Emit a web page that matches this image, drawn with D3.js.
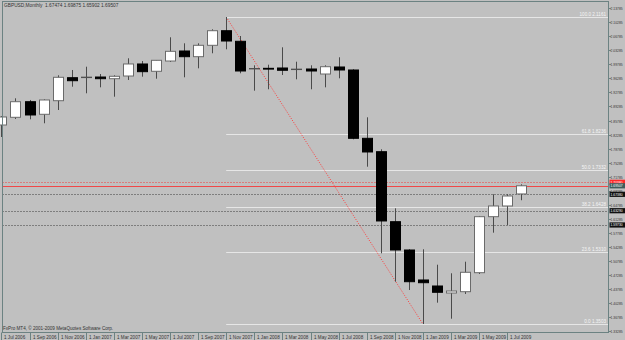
<!DOCTYPE html>
<html><head><meta charset="utf-8">
<script src="https://cdnjs.cloudflare.com/ajax/libs/d3/7.8.5/d3.min.js"></script>
<style>html,body{margin:0;padding:0;background:#c0c0c0;overflow:hidden}</style>
</head><body><svg id="c" width="625" height="340"></svg>
<script>
// ---- data ----
const months = ["Jul 2006","Aug 2006","Sep 2006","Oct 2006","Nov 2006","Dec 2006","Jan 2007","Feb 2007","Mar 2007","Apr 2007","May 2007","Jun 2007","Jul 2007","Aug 2007","Sep 2007","Oct 2007","Nov 2007","Dec 2007","Jan 2008","Feb 2008","Mar 2008","Apr 2008","May 2008","Jun 2008","Jul 2008","Aug 2008","Sep 2008","Oct 2008","Nov 2008","Dec 2008","Jan 2009","Feb 2009","Mar 2009","Apr 2009","May 2009","Jun 2009","Jul 2009","Aug 2009"];
const openP  = [1.8467,1.8659,1.9048,1.8734,1.9073,1.9647,1.9655,1.9664,1.9622,1.9689,1.9989,1.9807,2.0063,2.0313,2.0171,2.0455,2.0819,2.0555,1.9871,1.9881,1.9889,1.9855,1.9864,1.9739,1.9914,1.9839,1.8135,1.7801,1.6055,1.5349,1.4601,1.4451,1.4276,1.4309,1.4783,1.6180,1.6447,1.67474];
const highP  = [1.8690,1.9133,1.9091,1.9108,1.9707,1.9839,1.9921,1.9739,1.9707,2.0131,2.0063,2.0088,2.0655,2.0505,2.0505,2.0854,2.1161,2.0687,1.9956,1.9971,2.0405,2.0046,1.9956,1.9956,2.0156,1.9860,1.8659,1.7861,1.6389,1.5370,1.5367,1.4982,1.4768,1.5057,1.6198,1.6739,1.6739,1.69875];
const lowP   = [1.8168,1.8617,1.8609,1.8510,1.8841,1.9422,1.9258,1.9407,1.9173,1.9590,1.9672,1.9622,2.0039,1.9657,1.9881,2.0256,2.0355,1.9757,1.9323,1.9358,1.9714,1.9607,1.9358,1.9407,1.9632,1.8110,1.7427,1.5267,1.4558,1.4351,1.3503,1.4035,1.3635,1.4252,1.4750,1.5781,1.5973,1.65902];
const closeP = [1.8667,1.9048,1.8717,1.9091,1.9657,1.9572,1.9655,1.9622,1.9682,1.9989,1.9797,2.0081,2.0305,2.0171,2.0455,2.0819,2.0562,1.9814,1.9871,1.9873,1.9832,1.9855,1.9814,1.9921,1.9839,1.8135,1.7794,1.6073,1.5349,1.4558,1.4533,1.4294,1.4326,1.4793,1.6180,1.6447,1.6696,1.69507];
const priceTicks = [2.13785,2.10285,2.06785,2.03285,1.99785,1.96285,1.92785,1.89285,1.85785,1.82285,1.78785,1.75285,1.71785,1.68285,1.64785,1.61285,1.57785,1.54285,1.50785,1.47285,1.43785,1.40285,1.36785,1.33285];
const dateLabels = ["1 Jul 2006","1 Sep 2006","1 Nov 2006","1 Jan 2007","1 Mar 2007","1 May 2007","1 Jul 2007","1 Sep 2007","1 Nov 2007","1 Jan 2008","1 Mar 2008","1 May 2008","1 Jul 2008","1 Sep 2008","1 Nov 2008","1 Jan 2009","1 Mar 2009","1 May 2009","1 Jul 2009"];
const dateLabelMonths = ["Jul 2006","Sep 2006","Nov 2006","Jan 2007","Mar 2007","May 2007","Jul 2007","Sep 2007","Nov 2007","Jan 2008","Mar 2008","May 2008","Jul 2008","Sep 2008","Nov 2008","Jan 2009","Mar 2009","May 2009","Jul 2009"];
const fibLevels = [0, 23.6, 38.2, 50.0, 61.8, 100.0];
const fibLow = 1.3503, fibHigh = 2.1161;
const fibStartMonth = "Nov 2007", fibEndMonth = "Jan 2009";
const bidLevel = 1.69507;
const redDottedLevel = 1.7038;
const grayLevels = [1.6738, 1.6329, 1.5973];
const headerText = "GBPUSD,Monthly  1.67474 1.69875 1.65902 1.69507";
const footerText = "FxPro MT4, \u00a9 2001-2009 MetaQuotes Software Corp.";

// ---- layout ----
const W = 625, H = 340;
const plot = {l: 2.5, r: 608.5, t: 1.5, b: 332.5};
const svg = d3.select("#c");
const FONT = "'Liberation Sans Narrow','Liberation Sans',Arial,sans-serif";

const x = d3.scalePoint().domain(months).range([1.4, 1.4 + 14.05 * (months.length - 1)]);
const y = d3.scaleLinear().domain([fibLow, fibHigh]).range([324, 17]);

svg.append("rect").attr("width", W).attr("height", H).attr("fill", "#c0c0c0");

// Fibonacci levels
const fg = svg.append("g");
fibLevels.forEach(lv => {
  const v = fibLow + lv / 100 * (fibHigh - fibLow);
  const yy = Math.round(y(v)) + 0.5;
  fg.append("line").attr("x1", x(fibStartMonth)).attr("x2", plot.r).attr("y1", yy).attr("y2", yy)
    .attr("stroke", "#e6e6e6").attr("stroke-width", 1.2);
  fg.append("text").attr("x", 606).attr("y", yy - 1.2).attr("text-anchor", "end")
    .attr("font-family", FONT).attr("font-size", 4.6).attr("fill", "#f6f6f6")
    .text(lv.toFixed(1) + "  " + v.toFixed(4));
});

// horizontal dotted gray levels
grayLevels.forEach(v => {
  const yy = Math.round(y(v)) + 0.5;
  svg.append("line").attr("x1", plot.l).attr("x2", plot.r).attr("y1", yy).attr("y2", yy)
    .attr("stroke", "#3c3c3c").attr("stroke-width", 1).attr("stroke-dasharray", "1,2");
});
// red lines
{
  const yd = Math.round(y(redDottedLevel)) + 0.5;
  svg.append("line").attr("x1", plot.l).attr("x2", plot.r).attr("y1", yd).attr("y2", yd)
    .attr("stroke", "#f03c3c").attr("stroke-width", 1).attr("stroke-dasharray", "1,2");
  const yb = Math.round(y(bidLevel)) + 0.5;
  svg.append("line").attr("x1", plot.l).attr("x2", plot.r).attr("y1", yb).attr("y2", yb)
    .attr("stroke", "#f04848").attr("stroke-width", 1.1);
}

// trend line (high to low)
svg.append("line")
  .attr("x1", x(fibStartMonth)).attr("y1", y(fibHigh))
  .attr("x2", x(fibEndMonth)).attr("y2", y(fibLow))
  .attr("stroke", "#ff3c3c").attr("stroke-width", 1).attr("stroke-dasharray", "1,1.5");

// candles
const cg = svg.append("g");
const bw = 10;
months.forEach((m, i) => {
  const cx = Math.round(x(m)) + 0.5;
  const o = openP[i], c = closeP[i], h = highP[i], l = lowP[i];
  cg.append("line").attr("x1", cx).attr("x2", cx).attr("y1", y(h)).attr("y2", y(l))
    .attr("stroke", "#4a4a4a").attr("stroke-width", 1);
  const top = y(Math.max(o, c)), bot = y(Math.min(o, c));
  if (Math.abs(o - c) < 1e-9) {
    cg.append("line").attr("x1", cx - bw / 2 - 0.5).attr("x2", cx + bw / 2 + 0.5).attr("y1", top).attr("y2", top)
      .attr("stroke", "#505050").attr("stroke-width", 1.4);
  } else {
    const up = c > o;
    cg.append("rect").attr("x", cx - bw / 2).attr("y", top).attr("width", bw)
      .attr("height", Math.max(bot - top, 0.8))
      .attr("fill", up ? "#ffffff" : "#000000")
      .attr("stroke", up ? "#6a6a6a" : "#000000").attr("stroke-width", 1);
  }
});

// frame
svg.append("rect").attr("x", plot.l).attr("y", plot.t).attr("width", plot.r - plot.l).attr("height", plot.b - plot.t)
  .attr("fill", "none").attr("stroke", "#6c8282").attr("stroke-width", 1);

// right price axis
const ag = svg.append("g");
priceTicks.forEach(v => {
  const yy = Math.round(y(v)) + 0.5;
  ag.append("line").attr("x1", plot.r).attr("x2", plot.r + 2.5).attr("y1", yy).attr("y2", yy)
    .attr("stroke", "#6c8282");
  ag.append("text").attr("x", 610.6).attr("y", yy + 1.5).attr("font-family", FONT)
    .attr("font-size", 4.2).attr("fill", "#333")
    .attr("textLength", 12).attr("lengthAdjust", "spacingAndGlyphs").text(v.toFixed(5));
});
function priceBox(v, bg) {
  const yy = y(v);
  ag.append("rect").attr("x", plot.r + 1).attr("y", yy - 2.6).attr("width", 16).attr("height", 5.2).attr("fill", bg);
  ag.append("text").attr("x", 610.6).attr("y", yy + 1.5).attr("font-family", FONT)
    .attr("font-size", 4.2).attr("fill", "#fff")
    .attr("textLength", 12).attr("lengthAdjust", "spacingAndGlyphs").text(v.toFixed(5));
}
priceBox(redDottedLevel, "#ff2a2a");
priceBox(bidLevel, "#3e5c5c");
grayLevels.forEach(v => priceBox(v, "#101010"));

// bottom date axis
const dg = svg.append("g");
dateLabelMonths.forEach((m, k) => {
  const xx = Math.round(x(m)) + 0.5;
  dg.append("line").attr("x1", xx).attr("x2", xx).attr("y1", plot.b).attr("y2", 340).attr("stroke", "#6c8282");
  dg.append("text").attr("x", xx + 2.5).attr("y", 339).attr("font-family", FONT)
    .attr("font-size", 4.6).attr("fill", "#333").text(dateLabels[k]);
});

// header / footer
svg.append("text").attr("x", 4).attr("y", 6.5).attr("font-family", FONT).attr("font-size", 4.8)
  .attr("fill", "#333").attr("xml:space", "preserve").style("white-space", "pre").text(headerText);
svg.append("text").attr("x", 3).attr("y", 330).attr("font-family", FONT).attr("font-size", 4.6)
  .attr("fill", "#333").text(footerText);
</script>
</body></html>
